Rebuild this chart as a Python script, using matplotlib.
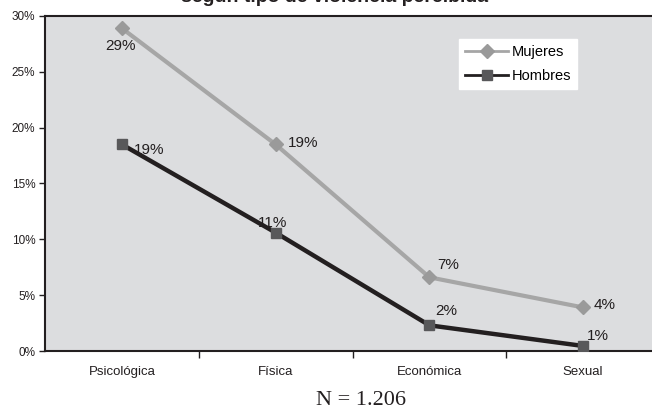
import matplotlib
matplotlib.use("Agg")
import matplotlib.pyplot as plt

categories = ["Psicológica", "Física", "Económica", "Sexual"]
mujeres = [28.9, 18.5, 6.6, 3.9]
hombres = [18.5, 10.6, 2.3, 0.45]
mujeres_labels = ["29%", "19%", "7%", "4%"]
hombres_labels = ["19%", "11%", "2%", "1%"]
yticks = [0, 5, 10, 15, 20, 25, 30]
ytick_labels = ["0%", "5%", "10%", "15%", "20%", "25%", "30%"]
title = "según tipo de violencia percibida"
note = "N = 1.206"

plt.rcParams['font.family'] = ['Liberation Sans', 'DejaVu Sans']

fig = plt.figure(figsize=(6.52, 4.15), dpi=100)
ax = fig.add_axes([45/652, 64/415, 615/652, 335/415])
ax.set_facecolor('#dcdddf')

x = list(range(len(categories)))
ax.plot(x, mujeres, color='#a6a6a6', lw=3, marker='D', markersize=7,
        markerfacecolor='#9a9a9a', markeredgecolor='#9a9a9a', label='Mujeres', zorder=3)
ax.plot(x, hombres, color='#231f20', lw=3.2, marker='s', markersize=7.5,
        markerfacecolor='#58585a', markeredgecolor='#58585a', label='Hombres', zorder=4)

m_off = [(-1, -18, 'center'), (12, 1, 'left'), (8, 12, 'left'), (11, 2, 'left')]
h_off = [(12, -6, 'left'), (-3, 10, 'center'), (6, 14, 'left'), (4, 10, 'left')]
for i, (v, lab) in enumerate(zip(mujeres, mujeres_labels)):
    dx, dy, ha = m_off[i]
    ax.annotate(lab, (i, v), xytext=(dx, dy), textcoords='offset pixels',
                ha=ha, va='center', fontsize=11, color='#231f20', zorder=5)
for i, (v, lab) in enumerate(zip(hombres, hombres_labels)):
    dx, dy, ha = h_off[i]
    ax.annotate(lab, (i, v), xytext=(dx, dy), textcoords='offset pixels',
                ha=ha, va='center', fontsize=11, color='#231f20', zorder=5)

ax.set_xlim(-0.5, len(categories) - 0.5)
ax.set_ylim(0, 30)
ax.set_yticks(yticks)
ax.set_yticklabels(ytick_labels, fontsize=8.5, color='#231f20')
ax.set_xticks(x)
ax.set_xticklabels(categories, fontsize=9.5, color='#231f20')
ax.set_xticks([0.5, 1.5, 2.5], minor=True)
ax.tick_params(axis='x', which='major', length=0, pad=11)
ax.tick_params(axis='x', which='minor', length=5, width=1, direction='out', color='#231f20')
ax.tick_params(axis='y', length=4, width=1, direction='out', color='#231f20', pad=3)

for s in ['left', 'bottom', 'top']:
    ax.spines[s].set_color('#231f20')
    ax.spines[s].set_linewidth(1.5)
ax.spines['right'].set_visible(False)

leg = ax.legend(loc='upper left', bbox_to_anchor=(0.673, 0.93), fontsize=10.5,
                frameon=True, fancybox=False, handlelength=3.0, borderpad=0.4,
                labelspacing=0.65, handletextpad=0.2, borderaxespad=0)
for h in leg.legend_handles:
    h.set_linewidth(2)
leg.get_frame().set_facecolor('white')
leg.get_frame().set_edgecolor('white')
leg.get_frame().set_alpha(1)

fig.text(335/652, 1 - 1.5/415, title, ha='center', va='baseline', fontsize=14,
         fontweight='bold', color='#231f20')
fig.text(361/652, 1 - 405/415, note, ha='center', va='baseline', fontsize=16,
         family=['Liberation Serif', 'DejaVu Serif'], color='#231f20')

fig.savefig('out.png', dpi=100)
